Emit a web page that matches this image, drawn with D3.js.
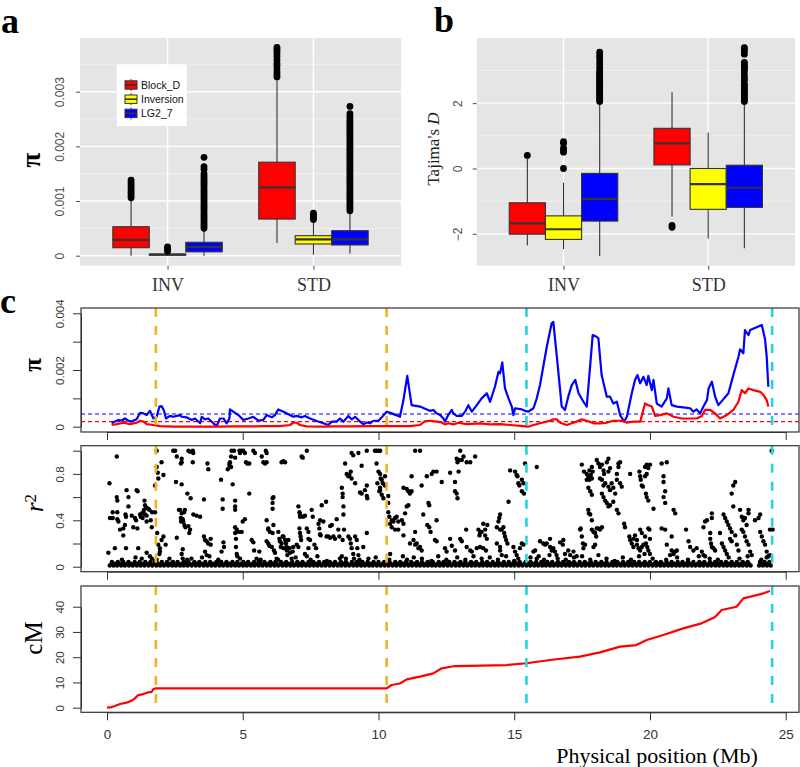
<!DOCTYPE html>
<html><head><meta charset="utf-8">
<script src="https://cdn.jsdelivr.net/npm/d3@7"></script>
<style>body{margin:0;background:#fff}</style>
</head><body><svg id="chart" width="800" height="767"></svg>
<script>
// ---------------- DATA ----------------
const groups = ["INV", "STD"];
const seriesNames = ["Block_D", "Inversion", "LG2_7"];
const seriesColors = ["#FF0000", "#FFFF00", "#0000FF"];

// panel a : nucleotide diversity (pi) box statistics [group][series]
const piLo  = [[0, 0, 0], [0.00023, 0.00002, 0.00004]];
const piQ1  = [[0.000146, 0.00001, 0.00007], [0.00067, 0.000214, 0.000196]];
const piMed = [[0.00029, 0.00002, 0.00016], [0.00125, 0.0003, 0.0003]];
const piQ3  = [[0.00053, 0.00003, 0.000245], [0.00171, 0.000366, 0.000457]];
const piHi  = [[0.00102, 0.00007, 0.00047], [0.00321, 0.00062, 0.00078]];
const piOut = [
  [[0.00106,0.0011,0.00114,0.00118,0.00122,0.00126,0.0013,0.00134,0.00138],
   [0.00008,0.00011,0.00014,0.00016],
   [0.0005,0.00054,0.00058,0.00062,0.00066,0.0007,0.00074,0.00078,0.00082,0.00086,0.0009,0.00094,0.00098,0.00102,0.00106,0.0011,0.00114,0.00118,0.00122,0.00126,0.0013,0.00134,0.00138,0.00142,0.00146,0.0015,0.00158,0.00163,0.0018]],
  [[0.00327,0.00331,0.00336,0.00342,0.00348,0.00352,0.00358,0.00364,0.00369,0.00374,0.00378,0.00381],
   [0.00066,0.0007,0.00074,0.00078],
   [0.00082,0.00086,0.0009,0.00094,0.00098,0.00102,0.00106,0.0011,0.00114,0.00118,0.00122,0.00126,0.0013,0.00134,0.00138,0.00142,0.00146,0.0015,0.00154,0.00158,0.00162,0.00166,0.0017,0.00174,0.00178,0.00182,0.00186,0.0019,0.00194,0.00198,0.00202,0.00206,0.0021,0.00214,0.00218,0.00222,0.00226,0.0023,0.00234,0.00238,0.00242,0.00246,0.0025,0.00255,0.0026,0.00273]]
];
const piTicks = [0, 0.001, 0.002, 0.003];
const piMinor = [0.0005, 0.0015, 0.0025, 0.0035];

// panel b : Tajima's D box statistics [group][series]
const tdLo  = [[-2.36, -2.47, -2.68], [-1.47, -2.14, -2.44]];
const tdQ1  = [[-2.01, -2.17, -1.61], [0.11, -1.25, -1.19]];
const tdMed = [[-1.68, -1.86, -0.93], [0.77, -0.48, -0.59]];
const tdQ3  = [[-1.05, -1.45, -0.15], [1.23, 0.0, 0.1]];
const tdHi  = [[0.3, -0.43, 2.0], [2.33, 1.1, 2.0]];
const tdOut = [
  [[0.4],
   [0.0, 0.5, 0.57, 0.62, 0.77, 0.82],
   [2.05,2.1,2.15,2.2,2.25,2.3,2.35,2.4,2.45,2.5,2.55,2.6,2.65,2.7,2.75,2.8,2.85,2.9,2.95,3.0,3.1,3.2,3.3,3.4,3.46,3.56]],
  [[-1.74, -1.8],
   [],
   [2.05,2.1,2.15,2.2,2.25,2.3,2.35,2.4,2.45,2.5,2.55,2.6,2.7,2.75,2.8,2.9,3.0,3.05,3.1,3.15,3.2,3.25,3.5,3.58,3.65,3.7]]
];
const tdTicks = [-2, 0, 2];
const tdMinor = [-1, 1, 3];

// panel c : sliding-window pi along the chromosome [Mb, pi]
const piLineBlue = [[0.17,0.00012],[0.29,0.00018],[0.42,0.00024],[0.54,0.00021],[0.66,0.00029],[0.79,0.00021],[0.91,0.00018],[1.09,0.00026],[1.22,0.00049],[1.34,0.00047],[1.46,0.00041],[1.58,0.00056],[1.71,0.00029],[1.83,0.00035],[1.93,0.00071],[2.01,0.00073],[2.1,0.00056],[2.17,0.00029],[2.32,0.00038],[2.44,0.00035],[2.57,0.00038],[2.69,0.00041],[2.75,0.00035],[2.93,0.00033],[3.12,0.00024],[3.24,0.00029],[3.43,0.00012],[3.49,0.00035],[3.61,0.00026],[3.73,0.00029],[3.92,0.00012],[4.04,0.00002],[4.16,0.00029],[4.29,0.00029],[4.41,0.00012],[4.51,0.00029],[4.53,0.00061],[4.65,0.00053],[4.84,0.00041],[5.02,0.00024],[5.21,0.00029],[5.39,0.00035],[5.58,0.00021],[5.76,0.00024],[5.88,0.00041],[6.07,0.00033],[6.19,0.00041],[6.31,0.00061],[6.5,0.00053],[6.74,0.00041],[6.86,0.00035],[6.99,0.00038],[7.17,0.00033],[7.29,0.00038],[7.48,0.00029],[7.72,0.0002],[7.97,0.00012],[8.15,0.00006],[8.28,0.00018],[8.46,0.00018],[8.58,0.00029],[8.71,0.00018],[8.89,0.00038],[9.01,0.00026],[9.14,0.00035],[9.32,0.00018],[9.44,0.00009],[9.57,0.00015],[9.69,0.00012],[9.81,0.00021],[10.0,0.00021],[10.12,0.00033],[10.3,0.00053],[10.49,0.00047],[10.67,0.0004],[10.79,0.00035],
 [10.92,0.00094],[11.06,0.00179],[11.22,0.00076],[11.53,0.00071],[11.78,0.00061],[11.9,0.00056],[12.02,0.00059],[12.14,0.00047],[12.27,0.00041],[12.39,0.00029],[12.45,0.00018],[12.57,0.00041],[12.7,0.00059],[12.76,0.00047],[12.88,0.00038],[13.07,0.00038],[13.19,0.00053],[13.31,0.00076],[13.44,0.00053],[13.62,0.00076],[13.8,0.001],[13.99,0.00118],[14.11,0.00088],[14.29,0.00141],[14.42,0.00194],[14.48,0.00188],[14.56,0.00227],[14.66,0.00135],[14.79,0.001],[14.91,0.00071],[14.97,0.00041],[15.03,0.00065],[15.28,0.00061],[15.4,0.00056],[15.52,0.00053],[15.71,0.00065],[15.83,0.001],[15.95,0.00147],[16.2,0.00282],[16.38,0.00365],[16.44,0.0037],[16.57,0.00247],[16.75,0.00071],[16.87,0.00059],[16.99,0.00106],[17.12,0.00147],[17.25,0.00165],[17.37,0.00118],[17.55,0.00088],[17.67,0.00071],[17.8,0.00218],[17.89,0.00323],[18.02,0.00318],[18.1,0.00312],[18.22,0.00182],[18.41,0.00106],[18.53,0.00106],[18.65,0.00082],[18.78,0.00088],[18.9,0.00041],[19.05,0.00018],[19.15,0.00035],[19.33,0.00118],[19.45,0.00165],[19.54,0.00182],[19.64,0.00153],[19.76,0.00176],[19.88,0.00147],[19.94,0.00179],[20.07,0.00129],[20.13,0.00165],[20.25,0.00082],[20.43,0.00071],[20.62,0.001],[20.68,0.00135],[20.8,0.00076],[20.99,0.00071],[21.23,0.00068],[21.48,0.00065],[21.6,0.00053],[21.72,0.00061],[21.85,0.00047],[21.97,0.00071],[22.1,0.00094],[22.16,0.00135],[22.28,0.00159],[22.4,0.00106],[22.52,0.00076],[22.89,0.00118],[23.07,0.00182],[23.26,0.00247],[23.32,0.00273],[23.44,0.00259],[23.5,0.00341],[23.63,0.00323],[23.69,0.00341],[24.12,0.00359],[24.24,0.00308],[24.3,0.00247],[24.36,0.00141]];
const piLineRed = [[0.17,0.00006],[0.36,0.00009],[0.6,0.00014],[0.85,0.00009],[1.09,0.00014],[1.22,0.00021],[1.34,0.00018],[1.46,0.00009],[1.71,0.00006],[1.95,0.00002],[2.44,0],[3.43,0],[4.04,0],[4.65,0.00001],[5.27,0.00001],[5.88,0.00002],[6.37,0.00002],[6.74,0.00006],[6.86,0.00014],[6.99,0.00014],[7.11,0.00006],[7.36,0.00001],[7.97,0],[8.34,0.00001],[8.95,0.00001],[9.57,0.00002],[10.18,0.00002],[10.79,0.00002],
 [11.16,0.00002],[11.53,0.00006],[11.72,0.0002],[11.9,0.00021],[12.14,0.00018],[12.33,0.00015],[12.45,0.00008],[12.57,0.00012],[12.76,0.00008],[12.95,0.00014],[13.25,0.00009],[13.74,0.00012],[14.11,0.00008],[14.48,0.00009],[14.85,0.00006],[15.34,0.00002],[15.52,0],[15.71,0.00006],[15.95,0.00012],[16.32,0.00021],[16.44,0.00026],[16.57,0.00026],[16.69,0.00014],[16.93,0.00006],[17.12,0.00012],[17.3,0.00018],[17.49,0.00026],[17.67,0.00021],[17.92,0.00012],[18.16,0.00012],[18.41,0.00014],[18.65,0.00021],[18.84,0.00021],[19.02,0.00021],[19.15,0.00014],[19.39,0.00018],[19.64,0.00018],[19.82,0.00082],[19.94,0.00076],[20.07,0.00071],[20.19,0.00038],[20.37,0.00041],[20.62,0.00047],[20.87,0.00035],[21.17,0.00029],[21.48,0.00029],[21.72,0.00029],[21.91,0.00038],[22.03,0.00059],[22.22,0.00059],[22.4,0.00047],[22.58,0.00029],[22.83,0.00041],[23.07,0.00059],[23.26,0.00088],[23.38,0.00129],[23.5,0.00118],[23.63,0.00135],[23.81,0.00129],[24.06,0.00123],[24.18,0.00112],[24.3,0.00094],[24.36,0.00071]];
const piMeanBlue = 0.00045;
const piMeanRed = 0.00018;

// LD (r^2) points [Mb, r2]
const r2Points = [[0.36,0.95],[0.09,0.72],[0.05,0.12],[0.11,0.42],[0.21,0.42],[0.21,0.47],[0.38,0.47],[0.38,0.41],[0.36,0.6],[0.38,0.57],[0.29,0.16],[0.42,0.39],[0.48,0.32],[0.6,0.27],[0.6,0.33],[0.66,0.36],[0.7,0.43],[0.68,0.45],[0.72,0.66],[0.79,0.6],[0.79,0.52],[0.7,0.16],[0.91,0.44],[0.97,0.34],[1.03,0.42],[1.07,0.4],[1.09,0.66],[1.13,0.65],[1.12,0.33],[1.15,0.16],[1.22,0.45],[1.24,0.43],[1.28,0.46],[1.31,0.42],[1.34,0.47],[1.36,0.49],[1.38,0.57],[1.4,0.53],[1.4,0.45],[1.44,0.51],[1.46,0.44],[1.46,0.39],[1.52,0.5],[1.56,0.49],[1.61,0.4],[1.65,0.34],[1.66,0.47],[1.28,0.07],[1.46,0.12],[1.58,0.09],[1.65,0.07],[1.77,0.7],[1.77,0.47],[1.83,1.0],[1.83,0.86],[1.87,0.81],[1.89,0.76],[2.01,0.9],[2.08,0.79],[1.85,0.29],[1.89,0.19],[1.95,0.16],[1.95,0.13],[2.01,0.23],[2.08,0.26],[2.16,0.19],[1.83,0.06],[1.93,0.11],[2.44,1.0],[2.51,1.0],[2.57,0.95],[2.75,0.93],[2.72,0.89],[2.75,0.9],[2.54,0.73],[2.75,0.71],[2.69,0.49],[2.75,0.46],[2.72,0.42],[2.79,0.41],[2.84,0.47],[2.87,0.49],[2.73,0.39],[2.81,0.39],[2.85,0.36],[2.89,0.34],[2.65,0.49],[2.57,0.25],[2.79,0.15],[2.75,0.11],[2.79,0.07],[3.0,1.0],[3.06,0.99],[3.16,1.0],[3.18,0.98],[3.16,0.9],[2.96,0.63],[3.08,0.59],[3.0,0.35],[3.06,0.32],[3.03,0.29],[3.18,0.45],[3.3,0.44],[3.11,0.07],[3.43,0.43],[3.57,0.58],[3.57,0.26],[3.61,0.23],[3.67,0.22],[3.73,0.2],[3.82,0.24],[3.82,0.19],[3.61,0.13],[3.67,0.1],[3.77,0.09],[3.7,0.89],[3.73,0.84],[4.2,0.75],[4.26,0.58],[4.26,0.5],[4.29,0.21],[4.31,0.17],[4.22,0.13],[4.45,0.84],[4.51,0.89],[4.53,0.9],[4.57,0.95],[4.59,1.0],[4.68,1.0],[4.72,0.94],[4.51,0.87],[4.57,0.86],[4.63,0.71],[4.72,0.57],[4.72,0.52],[4.72,0.49],[4.72,0.34],[4.72,0.29],[4.75,0.24],[4.75,0.17],[4.78,0.11],[4.8,0.09],[4.78,0.32],[4.84,0.3],[4.96,0.3],[5.0,0.39],[5.08,0.41],[4.88,1.0],[4.9,0.98],[4.96,1.0],[5.02,1.0],[5.08,0.98],[5.12,0.9],[5.17,0.89],[5.24,0.89],[5.24,0.63],[5.33,0.23],[5.39,0.21],[5.42,0.14],[5.51,0.07],[5.66,0.06],[5.39,1.0],[5.45,0.98],[5.61,0.13],[5.76,0.9],[5.82,0.89],[5.88,0.9],[5.7,0.95],[5.85,1.0],[5.88,0.98],[5.88,0.4],[5.94,0.33],[5.94,0.32],[6.0,0.3],[6.1,0.29],[5.88,0.22],[5.94,0.2],[5.98,0.18],[6.07,0.17],[6.1,0.59],[6.1,0.55],[6.1,0.5],[6.13,0.6],[6.13,0.36],[6.15,0.14],[6.19,0.12],[6.25,0.07],[6.31,0.3],[6.35,0.24],[6.37,0.22],[6.4,0.17],[6.43,0.2],[6.47,0.26],[6.5,0.26],[6.5,0.16],[6.43,0.9],[6.5,0.91],[6.56,0.9],[6.56,0.23],[6.59,0.2],[6.62,0.17],[6.62,0.14],[6.64,0.1],[6.68,0.23],[6.72,0.16],[6.74,0.12],[6.8,0.07],[6.84,0.13],[6.86,0.17],[6.99,0.19],[7.05,0.17],[7.05,0.52],[7.09,0.47],[7.11,0.45],[7.11,0.43],[7.09,0.33],[7.11,0.29],[7.13,0.26],[7.15,0.23],[7.17,0.95],[7.21,0.94],[7.36,1.0],[7.23,0.43],[7.29,0.44],[7.29,0.11],[7.36,0.09],[7.42,0.16],[7.36,0.33],[7.42,0.3],[7.42,0.24],[7.48,0.23],[7.54,0.49],[7.58,0.43],[7.64,0.19],[7.7,0.16],[7.79,0.37],[7.82,0.33],[7.85,0.4],[7.85,0.28],[7.87,0.27],[7.91,0.53],[7.97,0.39],[8.07,0.56],[8.09,0.26],[8.15,0.26],[8.22,0.25],[8.22,0.35],[8.28,0.36],[8.34,0.26],[8.4,0.24],[8.46,0.41],[8.52,0.32],[8.56,0.26],[8.58,0.07],[8.65,0.09],[8.65,0.68],[8.68,0.63],[8.68,0.6],[8.71,0.52],[8.71,0.45],[8.73,0.32],[8.68,0.23],[8.77,0.89],[8.83,0.8],[8.89,0.78],[8.93,0.79],[8.98,0.82],[9.01,0.76],[8.89,0.26],[8.95,0.24],[8.98,0.2],[9.01,0.16],[9.07,0.11],[9.1,0.07],[9.01,0.98],[9.07,0.96],[9.14,0.72],[9.14,0.26],[9.2,0.23],[9.22,0.16],[9.26,0.1],[9.26,0.98],[9.38,0.87],[9.32,0.64],[9.38,0.63],[9.44,0.17],[9.5,0.66],[9.57,0.7],[9.57,0.61],[9.59,0.59],[9.57,1.0],[9.57,0.29],[9.63,0.07],[9.87,1.0],[9.93,1.0],[10.0,1.0],[10.06,1.0],[9.93,0.89],[10.0,0.82],[10.06,0.8],[10.08,0.76],[10.12,0.75],[10.16,0.72],[9.96,0.72],[10.06,0.68],[10.03,0.65],[10.12,0.62],[10.18,0.59],[10.06,0.66],[10.24,0.78],[10.24,0.7],[10.36,0.61],[10.36,0.47],[10.4,0.43],[10.43,0.37],[10.49,0.4],[10.55,0.39],[10.61,0.42],[10.67,0.43],[10.73,0.39],[10.49,0.34],[10.61,0.32],[10.73,0.32],[10.36,0.55],[10.43,0.11],
 [11.35,1.0],[11.53,1.0],[10.92,0.68],[11.1,0.65],[11.22,0.65],[11.04,0.67],[11.16,0.63],[11.22,0.78],[10.86,0.4],[10.92,0.37],[10.98,0.46],[11.04,0.52],[11.1,0.53],[10.92,0.27],[11.35,0.3],[11.16,0.2],[11.29,0.23],[11.35,0.19],[11.41,0.2],[11.47,0.16],[11.53,0.17],[11.59,0.14],[11.59,0.7],[11.65,0.45],[11.78,0.78],[11.8,0.36],[11.87,0.34],[11.84,0.55],[11.87,0.53],[11.96,0.8],[12.02,0.82],[12.14,0.82],[11.92,0.3],[12.08,0.23],[12.14,0.22],[12.14,0.4],[12.33,0.73],[12.45,0.16],[12.51,0.13],[12.64,0.24],[12.64,0.81],[12.7,0.18],[12.82,0.14],[12.82,0.73],[12.82,0.65],[12.88,0.63],[12.91,0.59],[12.88,0.93],[12.91,0.9],[12.95,0.92],[13.01,1.0],[13.07,0.92],[13.13,0.95],[13.25,0.9],[13.38,0.9],[13.56,0.95],[12.95,0.82],[13.01,0.24],[13.07,0.22],[13.23,0.32],[13.25,0.17],[13.38,0.14],[13.44,0.13],[13.62,0.16],[13.74,0.17],[13.68,0.32],[13.72,0.27],[13.74,0.29],[13.8,0.3],[13.86,0.37],[13.93,0.32],[13.93,0.27],[14.01,0.36],[13.99,0.24],[13.86,0.16],[13.96,0.14],[14.36,0.2],[14.36,0.34],[14.42,0.39],[14.45,0.42],[14.48,0.45],[14.48,0.32],[14.54,0.32],[14.6,0.34],[14.63,0.29],[14.66,0.26],[14.7,0.23],[14.75,0.2],[14.48,0.17],[14.48,0.14],[14.54,0.1],[14.79,0.56],[14.85,0.83],[14.97,0.17],[15.03,0.13],[15.09,0.1],[15.15,0.07],[15.21,0.16],[15.28,0.2],[15.34,0.19],[15.03,0.82],[15.09,0.79],[15.12,0.78],[15.15,0.72],[15.19,0.7],[15.28,0.75],[15.34,0.72],[15.36,0.63],[15.28,0.65],[15.4,0.89],[15.83,0.86],[15.71,0.13],[15.77,0.14],[15.83,0.07],[15.95,0.22],[16.07,0.2],[16.14,0.19],[16.2,0.2],[16.32,0.24],[16.32,0.17],[16.38,0.14],[16.44,0.16],[16.5,0.13],[16.56,0.1],[16.69,0.21],[16.81,0.23],[16.79,0.19],[16.87,0.11],[16.99,0.14],[17.06,0.1],[17.18,0.13],[17.3,0.09],[17.43,0.32],[17.45,0.33],[17.49,0.26],[17.53,0.2],[17.55,0.16],[17.61,0.19],[17.49,0.88],[17.57,0.82],[17.67,0.8],[17.77,0.83],[17.82,0.79],[17.89,0.82],[17.86,0.86],[17.73,0.68],[17.8,0.65],[17.86,0.62],[17.67,0.75],[17.73,0.78],[17.77,0.75],[17.86,0.76],[17.73,0.49],[17.75,0.46],[17.8,0.45],[17.86,0.4],[17.86,0.32],[17.92,0.3],[17.98,0.29],[18.02,0.26],[18.04,0.33],[18.1,0.33],[18.16,0.32],[18.23,0.34],[17.92,0.17],[17.98,0.19],[18.04,0.92],[18.1,0.89],[18.16,0.86],[18.23,0.88],[18.29,0.83],[18.31,0.8],[18.41,0.9],[18.47,0.93],[18.47,0.82],[18.53,0.85],[18.16,0.76],[18.23,0.75],[18.29,0.7],[18.23,0.63],[18.29,0.6],[18.35,0.57],[18.41,0.55],[18.47,0.52],[18.53,0.53],[18.65,0.56],[18.35,0.72],[18.47,0.69],[18.53,0.66],[18.59,0.72],[18.65,0.68],[18.72,0.63],[18.78,0.75],[18.84,0.89],[18.9,0.9],[18.84,0.86],[18.78,0.8],[18.9,0.72],[18.96,0.69],[18.78,0.49],[18.84,0.46],[19.05,0.37],[19.08,0.34],[19.27,0.8],[19.24,0.26],[19.27,0.23],[19.33,0.2],[19.39,0.24],[19.45,0.27],[19.52,0.23],[19.39,0.17],[19.52,0.19],[19.58,0.16],[19.64,0.14],[19.7,0.17],[19.76,0.19],[19.61,0.82],[19.64,0.78],[19.66,0.75],[19.7,0.7],[19.74,0.69],[19.82,0.86],[19.88,0.88],[19.94,0.85],[20.0,0.88],[19.82,0.78],[19.88,0.8],[19.85,0.63],[19.88,0.6],[19.94,0.57],[19.64,0.32],[19.7,0.29],[19.82,0.26],[19.85,0.2],[19.9,0.17],[19.94,0.14],[20.0,0.24],[19.98,0.32],[19.94,0.33],[20.0,0.11],[20.13,0.5],[20.43,0.89],[20.5,0.78],[20.5,0.73],[20.56,0.65],[20.5,0.6],[20.56,0.55],[20.62,0.9],[20.43,0.33],[20.56,0.32],[20.62,0.19],[20.8,0.26],[20.87,0.49],[20.93,0.46],[20.8,0.14],[20.87,0.11],[20.93,0.13],[20.99,0.14],[20.74,0.1],[21.33,0.32],[21.42,0.22],[21.48,0.17],[21.6,0.14],[21.72,0.16],[21.91,0.13],[21.97,0.1],[22.03,0.09],[21.97,0.34],[22.03,0.39],[22.1,0.4],[22.28,0.46],[22.28,0.42],[22.22,0.29],[22.22,0.24],[22.25,0.2],[22.28,0.17],[22.34,0.16],[22.4,0.14],[22.58,0.29],[22.65,0.2],[22.71,0.17],[22.77,0.14],[22.83,0.11],[22.71,0.45],[22.77,0.42],[22.83,0.39],[22.89,0.36],[22.95,0.33],[23.01,0.3],[22.95,0.24],[23.01,0.22],[23.01,0.63],[23.07,0.7],[23.14,0.73],[23.07,0.52],[23.14,0.27],[23.2,0.19],[23.26,0.14],[23.32,0.49],[23.38,0.43],[23.44,0.4],[23.5,0.42],[23.56,0.36],[23.63,0.46],[23.63,0.49],[23.38,0.32],[23.44,0.3],[23.5,0.26],[23.56,0.22],[23.63,0.19],[23.69,0.13],[23.75,0.1],[23.87,0.4],[24.0,0.42],[24.06,0.45],[24.06,0.3],[24.12,0.26],[24.18,0.22],[24.24,0.19],[24.3,0.13],[24.36,0.09],[24.42,0.1],[24.42,0.32],[24.48,1.0],[24.52,0.32]];
// low-r2 scatter just above the dense band [Mb, r2]
const r2LowPoints = [[0.55,0.06],[1.05,0.08],[1.75,0.05],[2.3,0.07],[2.95,0.06],[3.5,0.08],[4.1,0.06],[4.9,0.07],[5.6,0.05],[6.3,0.06],[6.95,0.08],[7.5,0.06],[7.75,0.09],[8.1,0.05],[8.8,0.07],[9.3,0.06],[9.9,0.08],[10.4,0.06],[10.9,0.09],[11.05,0.06],[11.3,0.08],[11.6,0.07],[11.95,0.05],[12.2,0.09],[12.5,0.06],[12.9,0.08],[13.2,0.06],[13.5,0.09],[13.8,0.07],[14.1,0.08],[14.4,0.06],[14.7,0.09],[15.0,0.05],[15.6,0.08],[15.9,0.09],[16.1,0.06],[16.3,0.1],[16.6,0.07],[16.9,0.06],[17.2,0.08],[17.5,0.09],[17.8,0.06],[18.1,0.1],[18.4,0.07],[18.7,0.05],[19.0,0.08],[19.3,0.06],[19.6,0.09],[19.8,0.11],[20.1,0.07],[20.6,0.06],[21.0,0.08],[21.4,0.06],[21.8,0.09],[22.2,0.07],[22.5,0.06],[22.9,0.08],[23.3,0.07],[23.6,0.09],[24.1,0.06],[24.3,0.08]];
// dense band of near-zero r2 values: positions (Mb) at r2 ~ 0.01, ~0.025 and ~0.04
const r2BandLowPos = [0.10,0.24,0.37,0.52,0.66,0.81,0.95,1.1,1.24,1.38,1.53,1.67,1.82,1.96,2.1,2.25,2.4,2.54,2.69,2.83,2.97,3.12,3.27,3.41,3.56,3.7,3.85,3.99,4.14,4.28,4.43,4.57,4.72,4.86,5.01,5.15,5.3,5.44,5.59,5.73,5.88,6.02,6.17,6.31,6.46,6.6,6.75,6.89,7.04,7.18,7.33,7.47,7.62,7.76,7.91,8.05,8.2,8.34,8.49,8.63,8.78,8.92,9.07,9.21,9.36,9.5,9.65,9.79,9.94,10.08,10.23,10.37,10.52,10.66,10.81,10.95,11.1,11.24,11.39,11.53,11.68,11.82,11.97,12.11,12.26,12.4,12.55,12.69,12.84,12.98,13.13,13.27,13.42,13.56,13.71,13.85,14.0,14.14,14.29,14.43,14.58,14.72,14.87,15.01,15.16,15.3,15.45,15.59,15.74,15.88,16.03,16.17,16.32,16.46,16.61,16.75,16.9,17.04,17.19,17.33,17.48,17.62,17.77,17.91,18.06,18.2,18.35,18.49,18.64,18.78,18.93,19.07,19.22,19.36,19.51,19.65,19.8,19.94,20.09,20.23,20.38,20.52,20.67,20.81,20.96,21.1,21.25,21.39,21.54,21.68,21.83,21.97,22.12,22.26,22.41,22.55,22.7,22.84,22.99,23.13,23.28,23.42,23.57,23.71,24.02,24.16,24.31,24.45];
const r2BandMidPos = [0.17,0.31,0.45,0.59,0.74,0.88,1.03,1.17,1.31,1.46,1.6,1.75,1.89,2.03,2.18,2.33,2.47,2.62,2.76,2.9,3.05,3.2,3.34,3.49,3.63,3.78,3.92,4.07,4.21,4.36,4.5,4.65,4.79,4.94,5.08,5.23,5.37,5.52,5.66,5.81,5.95,6.1,6.24,6.39,6.53,6.68,6.82,6.97,7.11,7.26,7.4,7.55,7.69,7.84,7.98,8.13,8.27,8.42,8.56,8.71,8.85,9.0,9.14,9.29,9.43,9.58,9.72,9.87,10.01,10.16,10.3,10.45,10.59,10.74,10.88,11.03,11.17,11.32,11.46,11.61,11.75,11.9,12.04,12.19,12.33,12.48,12.62,12.77,12.91,13.06,13.2,13.35,13.49,13.64,13.78,13.93,14.07,14.22,14.36,14.51,14.65,14.8,14.94,15.09,15.23,15.38,15.52,15.67,15.81,15.96,16.1,16.25,16.39,16.54,16.68,16.83,16.97,17.12,17.26,17.41,17.55,17.7,17.84,17.99,18.13,18.28,18.42,18.57,18.71,18.86,19.0,19.15,19.29,19.44,19.58,19.73,19.87,20.02,20.16,20.31,20.45,20.6,20.74,20.89,21.03,21.18,21.32,21.47,21.61,21.76,21.9,22.05,22.19,22.34,22.48,22.63,22.77,22.92,23.06,23.21,23.35,23.5,23.64,24.09,24.23,24.38];
const r2BandHighPos = [0.18,0.4,0.6,0.79,1.02,1.2,1.41,1.6,1.8,2.02,2.21,2.43,2.6,2.83,3.0,3.22,3.4,3.62,3.8,4.03,4.21,4.4,4.62,4.8,5.02,5.2,5.42,5.61,5.8,6.02,6.2,6.41,6.6,6.82,7.01,7.2,7.42,7.6,7.81,8.0,8.21,8.4,8.62,8.8,9.02,9.2,9.41,9.6,9.82,10.0,10.21,10.4,10.62,10.8,11.01,11.2,11.42,11.6,11.81,12.0,12.22,12.4,12.61,12.8,13.02,13.2,13.41,13.6,13.82,14.0,14.21,14.4,14.62,14.8,15.01,15.2,15.42,15.6,15.81,16.0,16.22,16.4,16.61,16.8,17.02,17.2,17.41,17.6,17.82,18.0,18.21,18.4,18.62,18.8,19.01,19.2,19.42,19.6,19.81,20.0,20.22,20.4,20.61,20.8,21.02,21.2,21.41,21.6,21.82,22.0,22.21,22.4,22.62,22.8,23.01,23.2,23.42,23.6,24.05,24.22,24.4];
const r2BandLowVal = 0.01;
const r2BandMidVal = 0.025;
const r2BandHighVal = 0.04;

// genetic map [Mb, cM]
const cmLine = [[0,0],[0.12,0.1],[0.29,0.66],[0.48,1.45],[0.72,2.0],[0.91,2.8],[1.03,3.7],[1.15,5.0],[1.34,5.4],[1.52,6.1],[1.65,6.3],[1.71,7.4],[1.8,7.66],[10.3,7.66],[10.48,9.0],[10.79,9.6],[11.04,11.2],[11.53,12.3],[12.02,13.6],[12.33,15.6],[12.82,16.5],[14.72,16.9],[15.45,17.6],[16.32,18.9],[17.42,20.2],[18.16,21.9],[18.9,24.2],[19.5,24.8],[19.88,26.8],[20.49,28.8],[21.23,31.4],[21.9,33.4],[22.39,35.8],[22.64,38.7],[23.19,40.0],[23.44,43.3],[23.93,44.6],[24.18,45.3],[24.42,46.2]];

const invBreaks = [1.8, 10.3];     // gold dashed lines
const blockBreaks = [15.45, 24.5]; // cyan dashed lines
const xTicksMb = [0, 5, 10, 15, 20, 25];

// ---------------- DRAWING ----------------
const SANS = "'Liberation Sans', Arial, Helvetica, sans-serif";
const SERIF = "'Liberation Serif', 'Times New Roman', serif";
const svg = d3.select("#chart");
svg.append("rect").attr("width", 800).attr("height", 767).attr("fill", "#fff");

function boxPanel(p) {
  const g = svg.append("g");
  const y = d3.scaleLinear().domain(p.yDomain).range([p.bottom, p.top]);
  const x = d3.scalePoint().domain(groups).range([p.left, p.right]).padding(0.6);
  const dodge = d3.scaleBand().domain(seriesNames).range([-0.375 * x.step(), 0.375 * x.step()]);
  const bw = dodge.bandwidth();
  g.append("rect").attr("x", p.left).attr("y", p.top).attr("width", p.right - p.left)
    .attr("height", p.bottom - p.top).attr("fill", "#E5E5E5");
  g.selectAll(".mn").data(p.minor).join("line")
    .attr("x1", p.left).attr("x2", p.right).attr("y1", d => y(d)).attr("y2", d => y(d))
    .attr("stroke", "#F2F2F2").attr("stroke-width", 0.8);
  g.selectAll(".mj").data(p.ticks).join("line")
    .attr("x1", p.left).attr("x2", p.right).attr("y1", d => y(d)).attr("y2", d => y(d))
    .attr("stroke", "#fff").attr("stroke-width", 1.4);
  g.selectAll(".vj").data(groups).join("line")
    .attr("x1", d => x(d)).attr("x2", d => x(d)).attr("y1", p.top).attr("y2", p.bottom)
    .attr("stroke", "#fff").attr("stroke-width", 1.4);
  groups.forEach((gr, i) => {
    seriesNames.forEach((s, j) => {
      const cx = x(gr) + dodge(s) + bw / 2;
      const x0 = x(gr) + dodge(s);
      g.append("line").attr("x1", cx).attr("x2", cx).attr("y1", y(p.lo[i][j])).attr("y2", y(p.hi[i][j]))
        .attr("stroke", "#333").attr("stroke-width", 1.1);
      g.append("rect").attr("x", x0).attr("width", bw)
        .attr("y", y(p.q3[i][j])).attr("height", Math.max(1, y(p.q1[i][j]) - y(p.q3[i][j])))
        .attr("fill", seriesColors[j]).attr("stroke", "#333").attr("stroke-width", 1.1);
      g.append("line").attr("x1", x0).attr("x2", x0 + bw).attr("y1", y(p.med[i][j])).attr("y2", y(p.med[i][j]))
        .attr("stroke", "#333").attr("stroke-width", 2.2);
      g.selectAll(null).data(p.out[i][j]).join("circle")
        .attr("cx", cx).attr("cy", d => y(d)).attr("r", 3.4).attr("fill", "#000");
    });
  });
  const ya = d3.axisLeft(y).tickValues(p.ticks).tickSize(4).tickSizeOuter(0).tickFormat(p.fmt);
  const yg = g.append("g").attr("transform", `translate(${p.left},0)`).call(ya);
  yg.select(".domain").remove();
  yg.selectAll(".tick line").attr("stroke", "#4d4d4d");
  yg.selectAll(".tick text").attr("x", null).attr("dy", null).attr("text-anchor", "middle")
    .attr("transform", `translate(${p.labOff},0) rotate(-90)`)
    .attr("fill", "#4d4d4d").style("font", `12px ${SANS}`);
  const xa = d3.axisBottom(x).tickSize(4).tickSizeOuter(0).tickPadding(12);
  const xg = g.append("g").attr("transform", `translate(0,${p.bottom})`).call(xa);
  xg.select(".domain").remove();
  xg.selectAll(".tick line").attr("stroke", "#4d4d4d");
  xg.selectAll(".tick text").attr("dy", null).attr("y", 25).attr("fill", "#333")
    .style("font", `18px ${SERIF}`);
  return { g, x, y };
}

// panel a
boxPanel({ left: 80, right: 401, top: 38, bottom: 265.7, yDomain: [-0.000183, 0.003982],
  ticks: piTicks, minor: piMinor, lo: piLo, q1: piQ1, med: piMed, q3: piQ3, hi: piHi, out: piOut,
  fmt: d3.format(".3~f"), labOff: -16.5 });
const lg = svg.append("g");
lg.append("rect").attr("x", 116.7).attr("y", 64.3).attr("width", 70).attr("height", 61.7).attr("fill", "#fff");
seriesNames.forEach((s, j) => {
  const cy = 85 + j * 14.2;
  lg.append("line").attr("x1", 131).attr("x2", 131).attr("y1", cy - 6).attr("y2", cy + 6).attr("stroke", "#333");
  lg.append("rect").attr("x", 125).attr("y", cy - 4.2).attr("width", 12).attr("height", 8.4)
    .attr("fill", seriesColors[j]).attr("stroke", "#333").attr("stroke-width", 1);
  lg.append("line").attr("x1", 125).attr("x2", 137).attr("y1", cy).attr("y2", cy).attr("stroke", "#333").attr("stroke-width", 1.6);
  lg.append("text").attr("x", 141).attr("y", cy + 3.6).text(s).attr("fill", "#111").style("font", `10.5px ${SANS}`);
});
svg.append("text").attr("transform", "translate(31.5,160) rotate(-90)").attr("dy", "0.33em")
  .attr("text-anchor", "middle").style("font", `bold 27px ${SERIF}`).text("π");
svg.append("text").attr("x", 1).attr("y", 33).style("font", `bold 36px ${SERIF}`).text("a");

// panel b
boxPanel({ left: 476.7, right: 795, top: 38, bottom: 265.7, yDomain: [-2.975, 3.994],
  ticks: tdTicks, minor: tdMinor, lo: tdLo, q1: tdQ1, med: tdMed, q3: tdQ3, hi: tdHi, out: tdOut,
  fmt: d3.format("d"), labOff: -14.4 });
const tt = svg.append("text").attr("transform", "translate(433,149) rotate(-90)").attr("dy", "0.33em")
  .attr("text-anchor", "middle").style("font", `17px ${SERIF}`).attr("fill", "#222");
tt.append("tspan").text("Tajima's ");
tt.append("tspan").attr("font-style", "italic").text("D");
svg.append("text").attr("x", 434).attr("y", 32).style("font", `bold 36px ${SERIF}`).text("b");

// panel c
svg.append("text").attr("x", 0).attr("y", 313).style("font", `bold 36px ${SERIF}`).text("c");
const xC = d3.scaleLinear().domain([0, 25]).range([107, 785.7]);
const L = 81, R = 799;
const panels = [
  { top: 308, bottom: 432, y: d3.scaleLinear().domain([0, 0.004]).range([426.7, 313.3]),
    ticks: [0, 0.001, 0.002, 0.003, 0.004], labels: [0, 0.002, 0.004], fmt: d3.format(".3~f") },
  { top: 445.7, bottom: 571.7, y: d3.scaleLinear().domain([0, 1]).range([566.7, 450.7]),
    ticks: [0, 0.2, 0.4, 0.6, 0.8, 1.0], labels: [0, 0.4, 0.8], fmt: d3.format(".1~f") },
  { top: 586, bottom: 712.3, y: d3.scaleLinear().domain([0, 40]).range([707.7, 606.7]),
    ticks: [0, 10, 20, 30, 40], labels: [0, 10, 20, 30, 40], fmt: d3.format("d") }
];
const cg = svg.append("g");
panels.forEach((p, k) => {
  const ya = d3.axisLeft(p.y).tickValues(p.ticks).tickSize(8).tickSizeOuter(0)
    .tickFormat(d => p.labels.some(v => Math.abs(v - d) < 1e-9) ? p.fmt(d) : "");
  const yg = cg.append("g").attr("transform", `translate(${L},0)`).call(ya);
  yg.select(".domain").attr("stroke", "#333");
  yg.selectAll(".tick line").attr("stroke", "#333");
  yg.selectAll(".tick text").attr("x", null).attr("dy", null).attr("text-anchor", "middle")
    .attr("transform", "translate(-17,0) rotate(-90)").attr("fill", "#333").style("font", `11.5px ${SANS}`);
  const xa = d3.axisBottom(xC).tickValues(xTicksMb).tickSize(8).tickSizeOuter(0).tickPadding(9)
    .tickFormat(k === 2 ? d3.format("d") : () => "");
  const xg = cg.append("g").attr("transform", `translate(0,${p.bottom})`).call(xa);
  xg.select(".domain").attr("stroke", "#333");
  xg.selectAll(".tick line").attr("stroke", "#333");
  xg.selectAll(".tick text").attr("fill", "#333").style("font", `13.5px ${SANS}`);
});
const [P1, P2, P3] = panels;
cg.selectAll(null).data([[piMeanBlue, "#0000FF"], [piMeanRed, "#FF0000"]]).join("line")
  .attr("x1", L).attr("x2", R).attr("y1", d => P1.y(d[0])).attr("y2", d => P1.y(d[0]))
  .attr("stroke", d => d[1]).attr("stroke-width", 1.1).attr("stroke-dasharray", "4,3");
const piLine = d3.line().x(d => xC(d[0])).y(d => P1.y(d[1]));
cg.append("path").datum(piLineBlue).attr("d", piLine).attr("fill", "none").attr("stroke", "#0000FF")
  .attr("stroke-width", 2.2).attr("stroke-linejoin", "round");
cg.append("path").datum(piLineRed).attr("d", piLine).attr("fill", "none").attr("stroke", "#FF0000")
  .attr("stroke-width", 2.2).attr("stroke-linejoin", "round");
const dotR = 2.2;
[[r2BandLowPos, r2BandLowVal], [r2BandMidPos, r2BandMidVal], [r2BandHighPos, r2BandHighVal]].forEach(([pos, v]) => {
  cg.selectAll(null).data(pos).join("circle").attr("cx", d => xC(d)).attr("cy", P2.y(v)).attr("r", dotR).attr("fill", "#000");
});
cg.selectAll(null).data(r2LowPoints.concat(r2Points)).join("circle")
  .attr("cx", d => xC(d[0])).attr("cy", d => P2.y(d[1])).attr("r", dotR).attr("fill", "#000");
cg.append("path").datum(cmLine).attr("d", d3.line().x(d => xC(d[0])).y(d => P3.y(d[1])))
  .attr("fill", "none").attr("stroke", "#FF0000").attr("stroke-width", 2.2).attr("stroke-linejoin", "round");
panels.forEach(p => {
  cg.selectAll(null).data(invBreaks).join("line").attr("x1", d => xC(d)).attr("x2", d => xC(d))
    .attr("y1", p.top).attr("y2", p.bottom).attr("stroke", "#EEB422").attr("stroke-width", 2.6).attr("stroke-dasharray", "9,9");
  cg.selectAll(null).data(blockBreaks).join("line").attr("x1", d => xC(d)).attr("x2", d => xC(d))
    .attr("y1", p.top).attr("y2", p.bottom).attr("stroke", "#22D3E0").attr("stroke-width", 2.6).attr("stroke-dasharray", "9,9");
  cg.append("rect").attr("x", L).attr("y", p.top).attr("width", R - L).attr("height", p.bottom - p.top)
    .attr("fill", "none").attr("stroke", "#333").attr("stroke-width", 1.2);
});
cg.append("text").attr("transform", "translate(32.5,365) rotate(-90)").attr("dy", "0.33em")
  .attr("text-anchor", "middle").style("font", `bold 25px ${SERIF}`).text("π");
const r2t = cg.append("text").attr("transform", "translate(35,503) rotate(-90)").attr("dy", "0.33em")
  .attr("text-anchor", "middle").style("font", `25px ${SERIF}`);
r2t.append("tspan").attr("font-style", "italic").text("r");
r2t.append("tspan").attr("dy", "-0.45em").style("font-size", "17px").text("2");
cg.append("text").attr("transform", "translate(34,638) rotate(-90)").attr("dy", "0.33em")
  .attr("text-anchor", "middle").style("font", `25px ${SERIF}`).text("cM");
cg.append("text").attr("x", 657).attr("y", 763).attr("text-anchor", "middle")
  .style("font", `22px ${SERIF}`).text("Physical position (Mb)");
</script>
</body></html>
